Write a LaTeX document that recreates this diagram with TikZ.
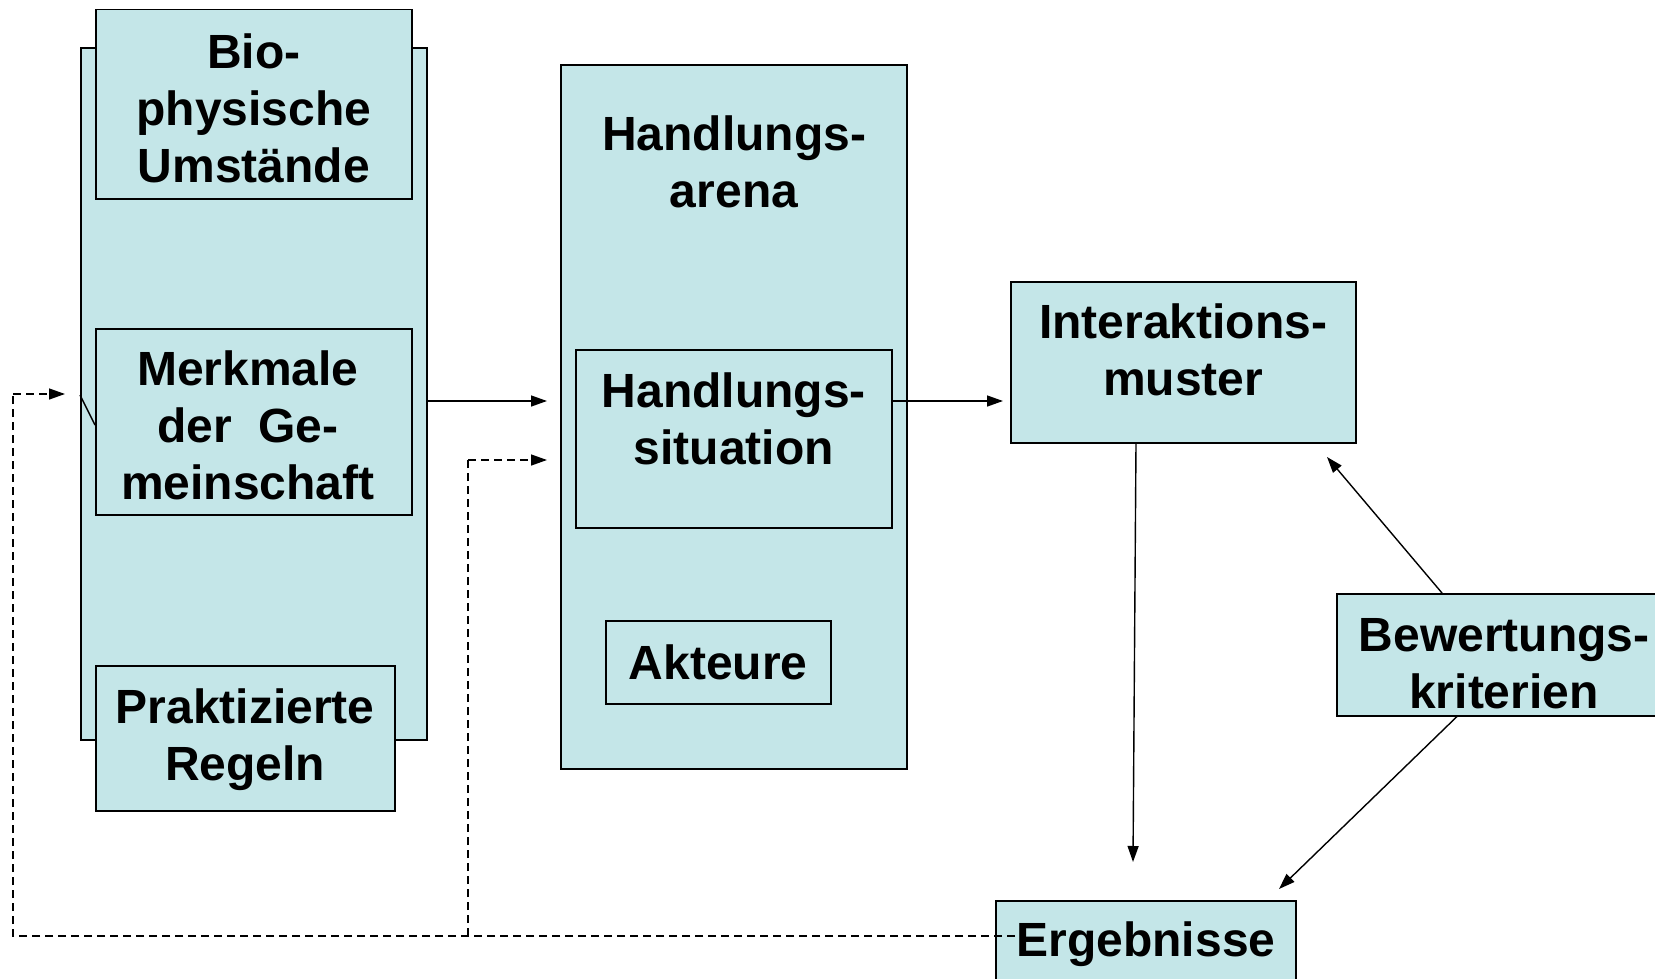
\documentclass[tikz,border=0pt]{standalone}
\usepackage{fontspec}
\setmainfont{Liberation Sans}
\usetikzlibrary{arrows.meta}
\definecolor{boxfill}{RGB}{196,230,232}
\tikzset{
  box/.style={draw=black, fill=boxfill, line width=1.5pt, anchor=north west, inner sep=0pt},
  bigbox/.style={box, line width=2pt},
  lbl/.style={align=center, font=\bfseries\fontsize{48}{57}\selectfont, inner sep=0pt},
  arr/.style={line width=1.4pt, -{Triangle[length=16pt,width=11pt]}},
  darr/.style={line width=1.4pt, dash pattern=on 8pt off 5pt, -{Triangle[length=16pt,width=11pt]}},
  dline/.style={line width=1.4pt, dash pattern=on 8pt off 5pt}
}
\begin{document}
\begin{tikzpicture}[x=1pt,y=-1pt]
\useasboundingbox (0,0) rectangle (1655,979);
% left column
\node[bigbox, minimum width=346pt, minimum height=692pt] (outer) at (80,47) {};
\node[box, minimum width=316pt, minimum height=189pt] (bio) at (95,9) {};
\node[lbl] (biot) at ([yshift=-4pt]bio.center) {Bio-\\physische\\Umstände};
\node[box, minimum width=316pt, minimum height=186pt] (merk) at (95,328) {};
\node[lbl] (merkt) at ([xshift=-6pt,yshift=-4pt]merk.center) {Merkmale\\der\ \ Ge-\\meinschaft};
\draw[line width=1.4pt] ([yshift=-348pt]outer.north west) -- ([yshift=-97pt]merk.north west);
\node[box, minimum width=299pt, minimum height=145pt] (prak) at (95,665) {};
\node[lbl] (prakt) at ([yshift=-1pt]prak.center) {Praktizierte\\Regeln};
% middle column
\node[bigbox, minimum width=346pt, minimum height=704pt] (arena) at (560,64) {};
\node[lbl, anchor=north] (arenat) at ([yshift=-52pt]arena.north) {Handlungs-\\arena};
\node[box, minimum width=316pt, minimum height=178pt] (sit) at (575,349) {};
\node[lbl, anchor=north] (sitt) at ([yshift=-24pt]sit.north) {Handlungs-\\situation};
\node[box, minimum width=225pt, minimum height=83pt] (akt) at (605,620) {};
\node[lbl] (aktt) at (akt.center) {Akteure};
% right
\node[box, minimum width=345pt, minimum height=161pt] (inter) at (1010,281) {};
\node[lbl, anchor=north] (intert) at ([yshift=-23pt]inter.north) {Interaktions-\\muster};
\node[box, minimum width=330pt, minimum height=122pt] (bew) at (1336,593) {};
\node[lbl] (bewt) at (1504,664) {Bewertungs-\\kriterien};
\node[box, minimum width=300pt, minimum height=100pt] (erg) at (995,900) {};
\node[lbl, anchor=base] (ergt) at (1146,956) {Ergebnisse};
% connectors
\coordinate (a1) at (547,401);
\draw[arr] (outer.east |- a1) -- (a1);
\coordinate (a2) at (1003,401);
\draw[arr] (sit.east |- a2) -- (a2);
\coordinate (a3) at (1133,862);
\draw[arr] ([xshift=126pt]inter.south west) -- (a3);
\coordinate (a4) at (1327,457);
\draw[arr] ([xshift=106pt]bew.north west) -- (a4);
\coordinate (a5) at (1279,889);
\draw[arr] ([xshift=121pt]bew.south west) -- (a5);
% dashed feedback
\coordinate (d0) at (1015,936);
\coordinate (d1) at (13,936);
\coordinate (d2) at (13,394);
\coordinate (d3) at (65,394);
\draw[dline] (d0) -- (d1) -- (d2);
\draw[darr] (d2) -- (d3);
\coordinate (e1) at (468,936);
\coordinate (e2) at (468,460);
\coordinate (e3) at (547,460);
\draw[dline] (e1) -- (e2);
\draw[darr] (e2) -- (e3);
\end{tikzpicture}
\end{document}
